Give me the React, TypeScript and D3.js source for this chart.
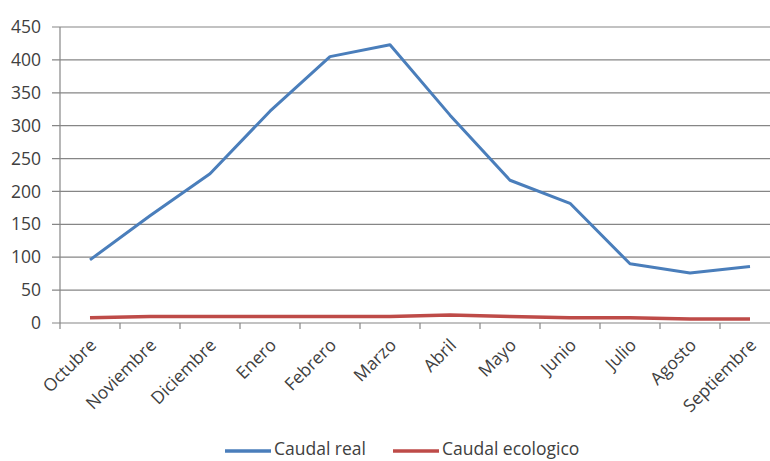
import React from "react";
import * as d3 from "d3";

const months = ["Octubre","Noviembre","Diciembre","Enero","Febrero","Marzo","Abril","Mayo","Junio","Julio","Agosto","Septiembre"];
const caudalReal = [96, 163, 227, 322, 405, 423, 316, 217, 182, 90, 76, 86];
const caudalEcologico = [8, 10, 10, 10, 10, 10, 12, 10, 8, 8, 6, 6];
const yTicks = [0, 50, 100, 150, 200, 250, 300, 350, 400, 450];
const seriesNames = ["Caudal real", "Caudal ecologico"];
const seriesColors = ["#4A7EBB", "#BE4B48"];

export default function App() {
  const W = 770, H = 461;
  const left = 60, right = 780, top = 27, bottom = 323;
  const x = d3.scaleBand<string>().domain(months).range([left, right]);
  const y = d3.scaleLinear().domain([0, 450]).range([bottom, top]);
  const line = d3.line<number>()
    .x((_, i) => (x(months[i]) as number) + x.bandwidth() / 2)
    .y((d) => y(d));
  const font = "'Open Sans', sans-serif";
  const fs = 17.5;
  const textColor = "#404040";
  const axisColor = "#868686";
  const series = [caudalReal, caudalEcologico];
  const legendX = [225, 393];
  const legendY = 449;
  return (
    <svg width={W} height={H} style={{ position: "absolute", left: 0, top: 0, background: "#fff" }}>
      {yTicks.map((t) => (
        <g key={t}>
          <line x1={left - 8} x2={right} y1={y(t)} y2={y(t)} stroke={axisColor} strokeWidth={1.2} />
          <text x={41} y={y(t)} dy="0.35em" textAnchor="end" fontFamily={font} fontSize={fs} fill={textColor}>{t}</text>
        </g>
      ))}
      <line x1={left} x2={left} y1={top} y2={bottom} stroke={axisColor} strokeWidth={1.2} />
      {months.map((m, i) => (
        <line key={"t" + i} x1={(x(m) as number)} x2={(x(m) as number)} y1={bottom} y2={bottom + 6} stroke={axisColor} strokeWidth={1.2} />
      ))}
      {months.map((m) => {
        const cx = (x(m) as number) + x.bandwidth() / 2 + 3;
        const cy = bottom + 19;
        return (
          <text key={m} x={cx} y={cy} transform={`rotate(-45 ${cx} ${cy})`} textAnchor="end" dy="0.35em" fontFamily={font} fontSize={fs} fill={textColor}>{m}</text>
        );
      })}
      {series.map((s, i) => (
        <path key={i} d={line(s) as string} fill="none" stroke={seriesColors[i]} strokeWidth={i === 0 ? 3 : 3.5} strokeLinejoin="round" />
      ))}
      {seriesNames.map((n, i) => (
        <g key={n}>
          <line x1={legendX[i]} x2={legendX[i] + 46} y1={legendY + 2} y2={legendY + 2} stroke={seriesColors[i]} strokeWidth={3.5} />
          <text x={legendX[i] + 49} y={legendY} dy="0.35em" fontFamily={font} fontSize={fs} fill={textColor}>{n}</text>
        </g>
      ))}
    </svg>
  );
}
